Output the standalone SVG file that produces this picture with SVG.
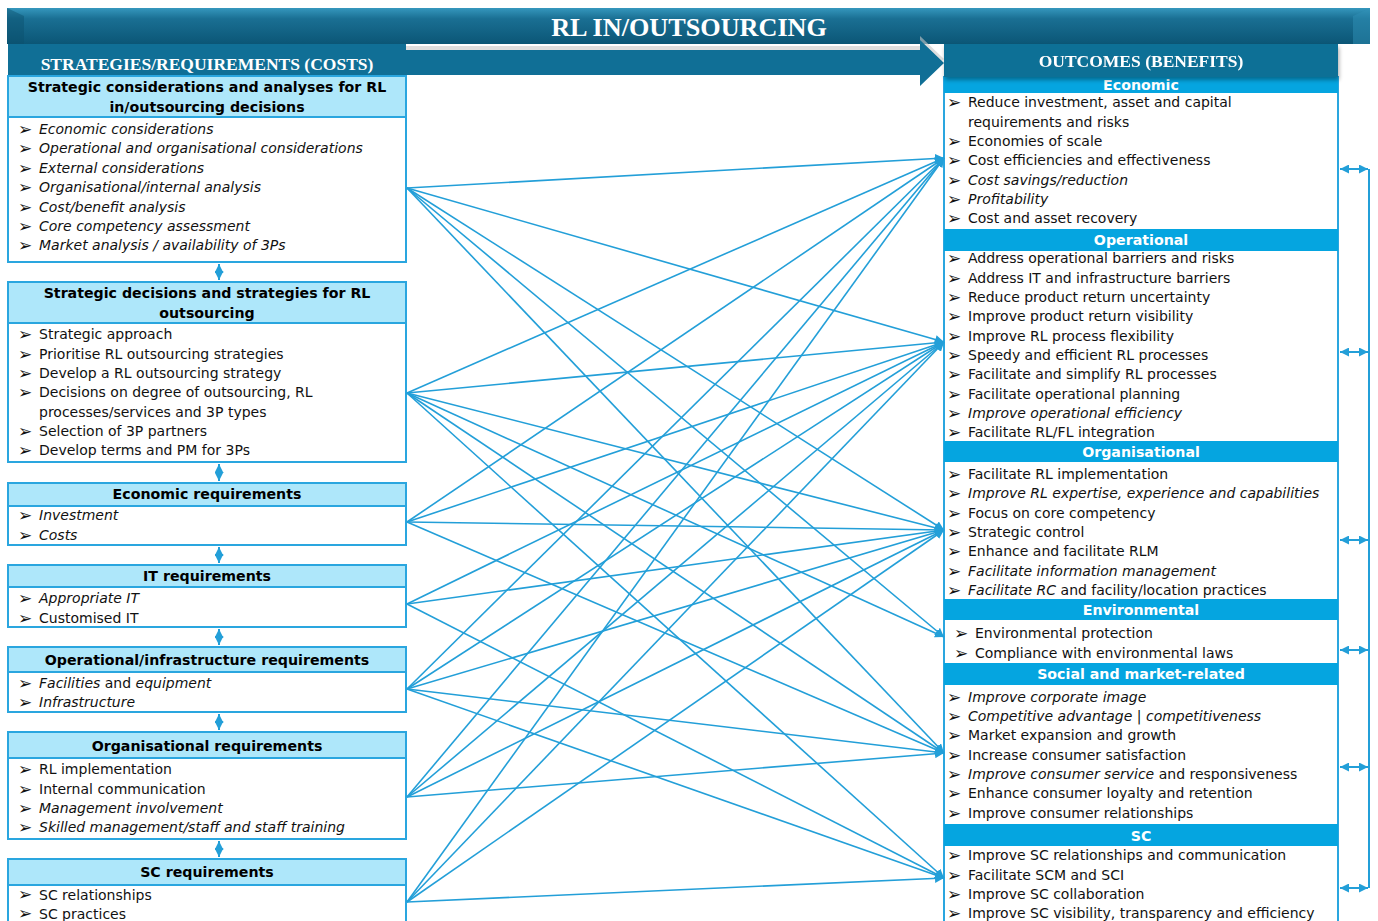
<svg xmlns="http://www.w3.org/2000/svg" width="1378" height="921" viewBox="0 0 1378 921">
  <defs>
    <linearGradient id="bannerGrad" x1="0" y1="0" x2="0" y2="1">
      <stop offset="0" stop-color="#3597bd"/>
      <stop offset="0.3" stop-color="#1a6f93"/>
      <stop offset="1" stop-color="#0b5676"/>
    </linearGradient>
    <filter id="shadow" x="-5%" y="-20%" width="110%" height="160%">
      <feGaussianBlur in="SourceAlpha" stdDeviation="2"/>
      <feOffset dx="1" dy="3" result="b"/>
      <feComponentTransfer><feFuncA type="linear" slope="0.35"/></feComponentTransfer>
      <feMerge><feMergeNode/><feMergeNode in="SourceGraphic"/></feMerge>
    </filter>
    <marker id="head" viewBox="0 0 10 10" refX="10" refY="5" markerWidth="9" markerHeight="9" markerUnits="userSpaceOnUse" orient="auto-start-reverse">
      <path d="M0,0 L10,5 L0,10 z" fill="#239fd8"/>
    </marker>
  </defs>
  <style>
    .hdr { font-family: "Liberation Serif", "Times New Roman", serif; font-weight: bold; fill: #ffffff; }
    .box { fill: #ffffff; stroke: #2aa6df; stroke-width: 2; }
    .bhead { fill: #aee7fa; stroke: #2aa6df; stroke-width: 2; }
    .bt { font-family: "DejaVu Sans", Verdana, sans-serif; font-size: 14.2px; font-weight: bold; fill: #000; text-anchor: middle; }
    .it { font-family: "DejaVu Sans", Verdana, sans-serif; font-size: 14px; fill: #111; }
    .i { font-style: italic; }
    .bul { font-family: "DejaVu Sans", sans-serif; font-size: 17px; fill: #111; }
    .cat { fill: #05a5e0; }
    .ct { font-family: "DejaVu Sans", Verdana, sans-serif; font-size: 14.2px; font-weight: bold; fill: #ffffff; text-anchor: middle; }
    .edge { stroke: #239fd8; stroke-width: 1.6; fill: none; marker-end: url(#head); }
    .dbl { stroke: #239fd8; stroke-width: 2; fill: none; marker-start: url(#head); marker-end: url(#head); }
  </style>

  <rect width="1378" height="921" fill="#ffffff"/>

  <!-- title banner -->
  <g id="banner">
    <rect x="7" y="8" width="1363" height="36" fill="url(#bannerGrad)"/>
    <polygon points="7,8 24,16 24,44 7,44" fill="#0a4f6d" opacity="0.45"/>
    <polygon points="1370,8 1353,16 1353,44 1370,44" fill="#2f8fb5" opacity="0.5"/>
    <text class="hdr" x="689" y="36" font-size="26.2" text-anchor="middle">RL IN/OUTSOURCING</text>
  </g>

  <!-- broad arrow from costs to benefits -->
  <g id="flow-arrow">
    <polygon points="406,46 920,46 920,36 944,59 920,82 920,71 406,71" fill="#c8c8c8" opacity="0.6"/>
    <polygon points="406,50 920,50 920,40 944,63 920,86 920,75 406,75" fill="#106f96"/>
  </g>

  <g id="costs-header">
    <rect x="8" y="44" width="398" height="32" fill="#106f96"/>
    <text class="hdr" x="207" y="70" font-size="17.5" text-anchor="middle">STRATEGIES/REQUIREMENTS (COSTS)</text>
  </g>

  <!-- requirement boxes -->
  <g id="req-strategic-considerations">
    <rect class="box" x="8" y="117" width="398" height="145"/>
    <rect class="bhead" x="8" y="76" width="398" height="41"/>
    <text class="bt" x="207" y="92">Strategic considerations and analyses for RL</text>
    <text class="bt" x="207" y="112">in/outsourcing decisions</text>
    <g class="bul"><text x="18" y="135">➢</text><text x="18" y="154">➢</text><text x="18" y="174">➢</text><text x="18" y="193">➢</text><text x="18" y="213">➢</text><text x="18" y="232">➢</text><text x="18" y="251">➢</text></g>
    <g class="it i">
      <text x="39" y="134">Economic considerations</text>
      <text x="39" y="153">Operational and organisational considerations</text>
      <text x="39" y="173">External considerations</text>
      <text x="39" y="192">Organisational/internal analysis</text>
      <text x="39" y="212">Cost/benefit analysis</text>
      <text x="39" y="231">Core competency assessment</text>
      <text x="39" y="250">Market analysis / availability of 3Ps</text>
    </g>
  </g>

  <g id="req-strategic-decisions">
    <rect class="box" x="8" y="323" width="398" height="139"/>
    <rect class="bhead" x="8" y="282" width="398" height="41"/>
    <text class="bt" x="207" y="298">Strategic decisions and strategies for RL</text>
    <text class="bt" x="207" y="318">outsourcing</text>
    <g class="bul"><text x="18" y="340">➢</text><text x="18" y="360">➢</text><text x="18" y="379">➢</text><text x="18" y="398">➢</text><text x="18" y="437">➢</text><text x="18" y="456">➢</text></g>
    <g class="it">
      <text x="39" y="339">Strategic approach</text>
      <text x="39" y="359">Prioritise RL outsourcing strategies</text>
      <text x="39" y="378">Develop a RL outsourcing strategy</text>
      <text x="39" y="397">Decisions on degree of outsourcing, RL</text>
      <text x="39" y="417">processes/services and 3P types</text>
      <text x="39" y="436">Selection of 3P partners</text>
      <text x="39" y="455">Develop terms and PM for 3Ps</text>
    </g>
  </g>

  <g id="req-economic">
    <rect class="box" x="8" y="506" width="398" height="39"/>
    <rect class="bhead" x="8" y="483" width="398" height="23"/>
    <text class="bt" x="207" y="499">Economic requirements</text>
    <g class="bul"><text x="18" y="521">➢</text><text x="18" y="541">➢</text></g>
    <g class="it i">
      <text x="39" y="520">Investment</text>
      <text x="39" y="540">Costs</text>
    </g>
  </g>

  <g id="req-it">
    <rect class="box" x="8" y="587" width="398" height="40"/>
    <rect class="bhead" x="8" y="565" width="398" height="22"/>
    <text class="bt" x="207" y="581">IT requirements</text>
    <g class="bul"><text x="18" y="604">➢</text><text x="18" y="624">➢</text></g>
    <g class="it">
      <text class="i" x="39" y="603">Appropriate IT</text>
      <text x="39" y="623">Customised IT</text>
    </g>
  </g>

  <g id="req-operational">
    <rect class="box" x="8" y="672" width="398" height="40"/>
    <rect class="bhead" x="8" y="647" width="398" height="25"/>
    <text class="bt" x="207" y="665">Operational/infrastructure requirements</text>
    <g class="bul"><text x="18" y="689">➢</text><text x="18" y="708">➢</text></g>
    <g class="it">
      <text x="39" y="688"><tspan class="i">Facilities</tspan> and <tspan class="i">equipment</tspan></text>
      <text class="i" x="39" y="707">Infrastructure</text>
    </g>
  </g>

  <g id="req-organisational">
    <rect class="box" x="8" y="758" width="398" height="81"/>
    <rect class="bhead" x="8" y="732" width="398" height="26"/>
    <text class="bt" x="207" y="751">Organisational requirements</text>
    <g class="bul"><text x="18" y="775">➢</text><text x="18" y="795">➢</text><text x="18" y="814">➢</text><text x="18" y="833">➢</text></g>
    <g class="it">
      <text x="39" y="774">RL implementation</text>
      <text x="39" y="794">Internal communication</text>
      <text class="i" x="39" y="813">Management involvement</text>
      <text class="i" x="39" y="832">Skilled management/staff and staff training</text>
    </g>
  </g>

  <g id="req-sc">
    <rect class="box" x="8" y="885" width="398" height="50"/>
    <rect class="bhead" x="8" y="859" width="398" height="26"/>
    <text class="bt" x="207" y="877">SC requirements</text>
    <g class="bul"><text x="18" y="900">➢</text><text x="18" y="919">➢</text></g>
    <g class="it">
      <text x="39" y="900">SC relationships</text>
      <text x="39" y="919">SC practices</text>
    </g>
  </g>

  <!-- outcomes panel -->
  <g id="outcomes">
    <rect x="944" y="77" width="394" height="860" fill="#ffffff" stroke="#2aa6df" stroke-width="2"/>

    <rect class="cat" x="944" y="77" width="394" height="16"/>
    <text class="ct" x="1141" y="90">Economic</text>
    <rect class="cat" x="944" y="229" width="394" height="22"/>
    <text class="ct" x="1141" y="245">Operational</text>
    <rect class="cat" x="944" y="441" width="394" height="21"/>
    <text class="ct" x="1141" y="457">Organisational</text>
    <rect class="cat" x="944" y="599" width="394" height="21"/>
    <text class="ct" x="1141" y="615">Environmental</text>
    <rect class="cat" x="944" y="663" width="394" height="22"/>
    <text class="ct" x="1141" y="679">Social and market-related</text>
    <rect class="cat" x="944" y="824" width="394" height="22"/>
    <text class="ct" x="1141" y="841">SC</text>

    <g class="bul">
      <text x="947" y="108">➢</text><text x="947" y="147">➢</text><text x="947" y="166">➢</text><text x="947" y="186">➢</text><text x="947" y="205">➢</text><text x="947" y="224">➢</text>
      <text x="947" y="264">➢</text><text x="947" y="284">➢</text><text x="947" y="303">➢</text><text x="947" y="322">➢</text><text x="947" y="342">➢</text><text x="947" y="361">➢</text><text x="947" y="380">➢</text><text x="947" y="400">➢</text><text x="947" y="419">➢</text><text x="947" y="438">➢</text>
      <text x="947" y="480">➢</text><text x="947" y="499">➢</text><text x="947" y="519">➢</text><text x="947" y="538">➢</text><text x="947" y="557">➢</text><text x="947" y="577">➢</text><text x="947" y="596">➢</text>
      <text x="954" y="639">➢</text><text x="954" y="659">➢</text>
      <text x="947" y="703">➢</text><text x="947" y="722">➢</text><text x="947" y="741">➢</text><text x="947" y="761">➢</text><text x="947" y="780">➢</text><text x="947" y="799">➢</text><text x="947" y="819">➢</text>
      <text x="947" y="861">➢</text><text x="947" y="881">➢</text><text x="947" y="900">➢</text><text x="947" y="919">➢</text>
    </g>
    <g class="it">
      <text x="968" y="107">Reduce investment, asset and capital</text>
      <text x="968" y="127">requirements and risks</text>
      <text x="968" y="146">Economies of scale</text>
      <text x="968" y="165">Cost efficiencies and effectiveness</text>
      <text class="i" x="968" y="185">Cost savings/reduction</text>
      <text class="i" x="968" y="204">Profitability</text>
      <text x="968" y="223">Cost and asset recovery</text>

      <text x="968" y="263">Address operational barriers and risks</text>
      <text x="968" y="283">Address IT and infrastructure barriers</text>
      <text x="968" y="302">Reduce product return uncertainty</text>
      <text x="968" y="321">Improve product return visibility</text>
      <text x="968" y="341">Improve RL process flexibility</text>
      <text x="968" y="360">Speedy and efficient RL processes</text>
      <text x="968" y="379">Facilitate and simplify RL processes</text>
      <text x="968" y="399">Facilitate operational planning</text>
      <text class="i" x="968" y="418">Improve operational efficiency</text>
      <text x="968" y="437">Facilitate RL/FL integration</text>

      <text x="968" y="479">Facilitate RL implementation</text>
      <text class="i" x="968" y="498">Improve RL expertise, experience and capabilities</text>
      <text x="968" y="518">Focus on core competency</text>
      <text x="968" y="537">Strategic control</text>
      <text x="968" y="556">Enhance and facilitate RLM</text>
      <text class="i" x="968" y="576">Facilitate information management</text>
      <text x="968" y="595"><tspan class="i">Facilitate RC</tspan> and facility/location practices</text>

      <text x="975" y="638">Environmental protection</text>
      <text x="975" y="658">Compliance with environmental laws</text>

      <text class="i" x="968" y="702">Improve corporate image</text>
      <text class="i" x="968" y="721">Competitive advantage |  competitiveness</text>
      <text x="968" y="740">Market expansion and growth</text>
      <text x="968" y="760">Increase consumer satisfaction</text>
      <text x="968" y="779"><tspan class="i">Improve consumer service</tspan> and responsiveness</text>
      <text x="968" y="798">Enhance consumer loyalty and retention</text>
      <text x="968" y="818">Improve consumer relationships</text>

      <text x="968" y="860">Improve SC relationships and communication</text>
      <text x="968" y="880">Facilitate SCM and SCI</text>
      <text x="968" y="899">Improve SC collaboration</text>
      <text x="968" y="918">Improve SC visibility, transparency and efficiency</text>
    </g>
  </g>

  <g id="benefits-header" filter="url(#shadow)">
    <rect x="944" y="44" width="394" height="33" fill="#106f96"/>
    <text class="hdr" x="1141" y="67" font-size="17.5" text-anchor="middle">OUTCOMES (BENEFITS)</text>
  </g>

  <!-- connectors -->
  <g id="connectors">
    <!-- links between requirement boxes -->
    <line class="dbl" x1="219" y1="264" x2="219" y2="280"/>
    <line class="dbl" x1="219" y1="464" x2="219" y2="481"/>
    <line class="dbl" x1="219" y1="547" x2="219" y2="563"/>
    <line class="dbl" x1="219" y1="629" x2="219" y2="645"/>
    <line class="dbl" x1="219" y1="714" x2="219" y2="730"/>
    <line class="dbl" x1="219" y1="841" x2="219" y2="857"/>

    <!-- feedback among outcome categories -->
    <path d="M1369,169 V888" stroke="#239fd8" stroke-width="2" fill="none"/>
    <line class="dbl" x1="1340" y1="169" x2="1368" y2="169"/>
    <line class="dbl" x1="1340" y1="352" x2="1368" y2="352"/>
    <line class="dbl" x1="1340" y1="540" x2="1368" y2="540"/>
    <line class="dbl" x1="1340" y1="650" x2="1368" y2="650"/>
    <line class="dbl" x1="1340" y1="767" x2="1368" y2="767"/>
    <line class="dbl" x1="1340" y1="888" x2="1368" y2="888"/>

    <!-- strategic considerations -->
    <line class="edge" x1="407" y1="188" x2="944" y2="158"/>
    <line class="edge" x1="407" y1="188" x2="944" y2="342"/>
    <line class="edge" x1="407" y1="188" x2="944" y2="530"/>
    <line class="edge" x1="407" y1="188" x2="944" y2="637"/>
    <line class="edge" x1="407" y1="188" x2="944" y2="753"/>
    <!-- strategic decisions -->
    <line class="edge" x1="407" y1="393" x2="944" y2="158"/>
    <line class="edge" x1="407" y1="393" x2="944" y2="342"/>
    <line class="edge" x1="407" y1="393" x2="944" y2="530"/>
    <line class="edge" x1="407" y1="393" x2="944" y2="637"/>
    <line class="edge" x1="407" y1="393" x2="944" y2="753"/>
    <line class="edge" x1="407" y1="393" x2="944" y2="878"/>
    <!-- economic -->
    <line class="edge" x1="407" y1="522" x2="944" y2="158"/>
    <line class="edge" x1="407" y1="522" x2="944" y2="342"/>
    <line class="edge" x1="407" y1="522" x2="944" y2="530"/>
    <line class="edge" x1="407" y1="522" x2="944" y2="753"/>
    <!-- IT -->
    <line class="edge" x1="407" y1="604" x2="944" y2="342"/>
    <line class="edge" x1="407" y1="604" x2="944" y2="530"/>
    <line class="edge" x1="407" y1="604" x2="944" y2="878"/>
    <!-- operational / infrastructure -->
    <line class="edge" x1="407" y1="689" x2="944" y2="158"/>
    <line class="edge" x1="407" y1="689" x2="944" y2="342"/>
    <line class="edge" x1="407" y1="689" x2="944" y2="530"/>
    <line class="edge" x1="407" y1="689" x2="944" y2="753"/>
    <line class="edge" x1="407" y1="689" x2="944" y2="878"/>
    <!-- organisational -->
    <line class="edge" x1="407" y1="797" x2="944" y2="158"/>
    <line class="edge" x1="407" y1="797" x2="944" y2="342"/>
    <line class="edge" x1="407" y1="797" x2="944" y2="530"/>
    <line class="edge" x1="407" y1="797" x2="944" y2="753"/>
    <!-- SC -->
    <line class="edge" x1="407" y1="902" x2="944" y2="158"/>
    <line class="edge" x1="407" y1="902" x2="944" y2="342"/>
    <line class="edge" x1="407" y1="902" x2="944" y2="530"/>
    <line class="edge" x1="407" y1="902" x2="944" y2="878"/>
  </g>
</svg>
